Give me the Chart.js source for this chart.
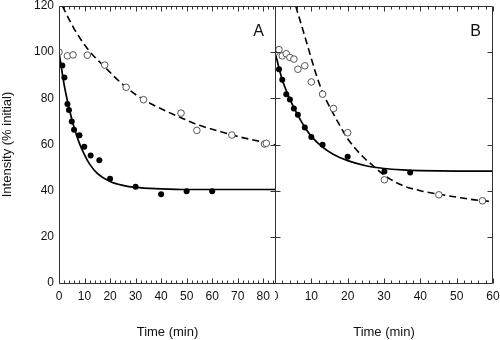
<!DOCTYPE html>
<html>
<head>
<meta charset="utf-8">
<script src="https://cdn.jsdelivr.net/npm/chart.js@4"></script>
<style>
html, body { margin: 0; padding: 0; background: #fff; }
#wrap { position: relative; width: 500px; height: 340px; }
#chartA { position: absolute; left: 0; top: 0; }
#chartB { position: absolute; left: 275px; top: 0; }
</style>
</head>
<body>
<div id="wrap">
  <canvas id="chartA" width="276" height="340"></canvas>
  <canvas id="chartB" width="225" height="340"></canvas>
</div>
<script>
// Panel A data (time in min, intensity in % initial)
const aFilledT = [1.3, 2.1, 3.3, 3.9, 5, 5.9, 8, 9.9, 12.4, 15.8, 20, 30, 40, 50, 60];
const aFilledV = [94.2, 89, 77.5, 75, 70, 66.4, 64, 59, 55.2, 53.2, 45.2, 41.7, 38.4, 39.7, 39.7];
const aOpenT = [0, 3.3, 5.5, 11.1, 17.9, 26.3, 33.1, 47.8, 54, 67.7, 80.5, 81.2];
const aOpenV = [100, 98.4, 98.8, 98.7, 94.4, 84.8, 79.4, 73.6, 66.1, 64.1, 60.2, 60.5];
const aSolidT = [0, 2, 4, 6, 8, 10, 12, 15, 20, 25, 30, 40, 50, 60, 70, 85];
const aSolidV = [100, 86, 75.5, 67, 60.5, 55.5, 51.5, 47.5, 44, 42.3, 41.4, 40.8, 40.5, 40.5, 40.5, 40.5];
const aDashT = [1.3, 6, 11.5, 18, 26, 33, 40, 48, 55, 62, 70, 78, 85];
const aDashV = [120, 110, 101, 93.5, 85, 79.5, 75.5, 71.5, 68.3, 66, 63.5, 61.5, 59.8];

// Panel B data
const bFilledT = [1.1, 2, 3.1, 4.1, 5.2, 6.3, 8.2, 10, 13.1, 20, 30.1, 37.2];
const bFilledV = [92.6, 88, 81.8, 79.5, 75.6, 72.9, 67.4, 63.3, 59.9, 54.7, 48.3, 47.9];
const bOpenT = [0, 1.1, 2, 3.1, 4.1, 5.2, 6.3, 8.2, 10, 13.1, 16.1, 20, 30.1, 45.1, 57.1];
const bOpenV = [100, 101.1, 98.4, 99.3, 97.7, 97, 92.6, 94.1, 87.1, 81.8, 75.6, 65.1, 44.7, 38.2, 35.6];
const bSolidT = [0, 2, 4, 6, 8, 10, 13, 16, 20, 25, 30, 35, 40, 50, 60];
const bSolidV = [100, 88, 80, 73.5, 68, 63.5, 59, 55.8, 53, 50.8, 49.6, 49, 48.7, 48.5, 48.5];
const bDashT = [5.7, 8.5, 11, 13, 16, 18, 20, 24, 27, 30, 35, 40, 45, 50, 55, 60];
const bDashV = [120, 105.3, 92, 83, 73.5, 67.8, 62.5, 55, 50.8, 46.8, 42.3, 40, 38.5, 37.2, 36, 35.2];

const yTicks = [20, 40, 60, 80, 100];

Chart.defaults.font.family = "'Liberation Sans', Arial, sans-serif";
Chart.defaults.color = '#111';

function pts(t, v) {
    return t.map((x, i) => ({ x: x, y: v[i] }));
}

// frame, inward ticks and panel letter
const frameTicks = {
    id: 'frameTicks',
    afterDatasetsDraw(chart, args, opts) {
        const { ctx, chartArea: a, scales: { x, y } } = chart;
        const L = a.left + 0.5, R = a.right - 0.5, T = a.top + 0.5, B = a.bottom + 0.5;
        ctx.save();
        ctx.strokeStyle = '#333';
        ctx.lineWidth = 1;
        ctx.beginPath();
        ctx.rect(L, T, R - L, B - T);
        for (let v = x.min; v <= x.max; v += 2) {
            const px = Math.round(x.getPixelForValue(v)) + 0.5;
            const len = v % 10 === 0 ? 5 : 3;
            ctx.moveTo(px, B); ctx.lineTo(px, B - len);
            ctx.moveTo(px, T); ctx.lineTo(px, T + len);
        }
        yTicks.forEach(v => {
            const py = Math.round(y.getPixelForValue(v)) + 0.5;
            if (opts.left) { ctx.moveTo(L, py); ctx.lineTo(L + 5, py); }
            if (opts.right) { ctx.moveTo(R, py); ctx.lineTo(R - 5, py); }
        });
        ctx.stroke();
        ctx.fillStyle = '#111';
        ctx.font = "16px 'Liberation Sans', Arial, sans-serif";
        ctx.textAlign = 'right';
        ctx.textBaseline = 'alphabetic';
        ctx.fillText(opts.label, a.right - 12, a.top + 30);
        ctx.restore();
    }
};

function makeDatasets(fT, fV, oT, oV, sT, sV, dT, dV) {
    return [
        { data: pts(fT, fV), pointRadius: 3, backgroundColor: '#000', borderWidth: 0, pointBorderWidth: 0 },
        { data: pts(oT, oV), pointRadius: 3.3, backgroundColor: '#fff', borderColor: '#555', pointBorderWidth: 1 },
        { data: pts(sT, sV), showLine: true, pointRadius: 0, borderColor: '#000', borderWidth: 1.7, cubicInterpolationMode: 'monotone' },
        { data: pts(dT, dV), showLine: true, pointRadius: 0, borderColor: '#000', borderWidth: 1.6, borderDash: [7, 4], cubicInterpolationMode: 'monotone' }
    ];
}

function xAxis(max) {
    return {
        type: 'linear', min: 0, max: max,
        grid: { display: false, drawTicks: false },
        border: { display: false },
        ticks: { stepSize: 10, includeBounds: false, padding: 6, maxRotation: 0, font: { size: 12 } },
        title: { display: true, text: 'Time (min)', font: { size: 13 }, padding: { top: 0, bottom: 0 } },
        afterFit: s => { s.height = 57; s.paddingLeft = 0; s.paddingRight = 0; }
    };
}

new Chart(document.getElementById('chartA'), {
    type: 'scatter',
    data: { datasets: makeDatasets(aFilledT, aFilledV, aOpenT, aOpenV, aSolidT, aSolidV, aDashT, aDashV) },
    options: {
        responsive: false,
        animation: false,
        layout: { autoPadding: false, padding: { top: 6, right: 0, left: 0, bottom: 0 } },
        plugins: { legend: { display: false }, tooltip: { enabled: false },
            frameTicks: { label: 'A', left: false, right: true } },
        scales: {
            x: xAxis(85),
            y: {
                min: 0, max: 120,
                grid: { display: false, drawTicks: false },
                border: { display: false },
                ticks: { stepSize: 20, padding: 5, font: { size: 12 } },
                title: { display: true, text: 'Intensity (% initial)', font: { size: 13 }, padding: { top: 0, bottom: 0 } },
                afterFit: s => { s.width = 59; s.paddingTop = 0; s.paddingBottom = 0; }
            }
        }
    },
    plugins: [frameTicks]
});

new Chart(document.getElementById('chartB'), {
    type: 'scatter',
    data: { datasets: makeDatasets(bFilledT, bFilledV, bOpenT, bOpenV, bSolidT, bSolidV, bDashT, bDashV) },
    options: {
        responsive: false,
        animation: false,
        layout: { autoPadding: false, padding: { top: 6, right: 7, left: 0, bottom: 0 } },
        plugins: { legend: { display: false }, tooltip: { enabled: false },
            frameTicks: { label: 'B', left: true, right: true } },
        scales: {
            x: xAxis(60),
            y: { min: 0, max: 120, display: false }
        }
    },
    plugins: [frameTicks]
});
</script>
</body>
</html>
